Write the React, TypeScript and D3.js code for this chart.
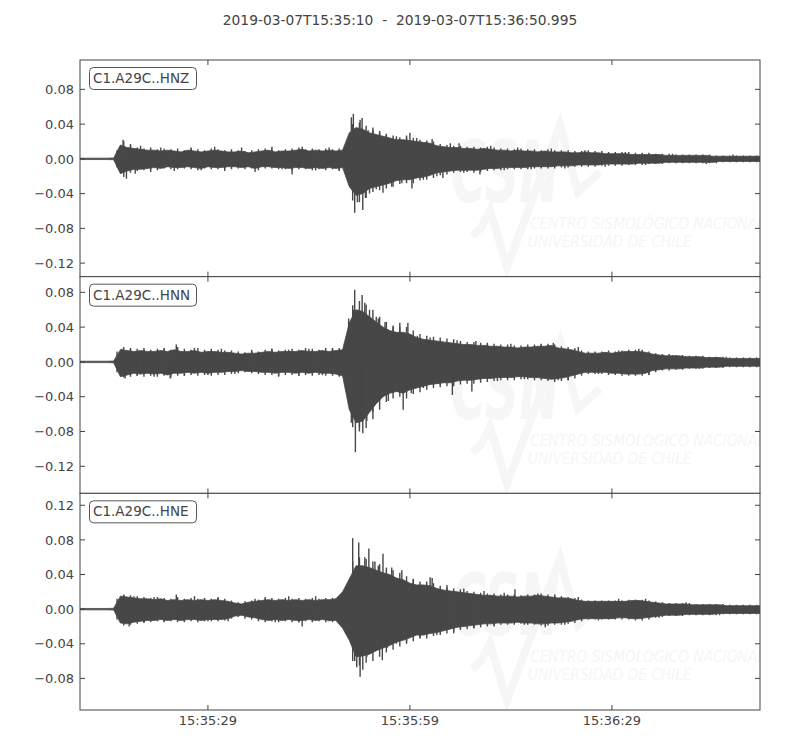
import React from "react";
import * as d3 from "d3";

// ---------- data ----------
const TITLE = "2019-03-07T15:35:10  -  2019-03-07T15:36:50.995";
const DURATION = 100.995; // seconds from 15:35:10
const X_TICKS = [19, 49, 79];
const X_TICK_LABELS = ["15:35:29", "15:35:59", "15:36:29"];
const CHANNELS = ["C1.A29C..HNZ", "C1.A29C..HNN", "C1.A29C..HNE"];
const Y_DOMAINS: [number, number][] = [
  [-0.1356, 0.1138],
  [-0.1511, 0.098],
  [-0.1165, 0.1338],
];
const Y_TICKS = [
  [0.08, 0.04, 0.0, -0.04, -0.08, -0.12],
  [0.08, 0.04, 0.0, -0.04, -0.08, -0.12],
  [0.12, 0.08, 0.04, 0.0, -0.04, -0.08],
];

// solid envelope read once per second, t = 0 .. 101 s after 15:35:10
const ENV_STEP = 1;
// jagged edge ("teeth") read once per second, at t = 5.5 .. 100.5 s
const TEETH_START = 5.5;

const HNZ_UPPER = [
  0.0008, 0.0008, 0.0008, 0.0008, 0.0008, 0.001,
  0.016, 0.013, 0.012, 0.011, 0.01,
  0.01, 0.009, 0.01, 0.009, 0.008, 0.01, 0.009, 0.008, 0.009, 0.01,
  0.009, 0.008, 0.008, 0.009, 0.007, 0.008, 0.009, 0.01, 0.008, 0.009,
  0.009, 0.01, 0.011, 0.009, 0.01, 0.009, 0.01, 0.009, 0.01,
  0.03, 0.036, 0.034, 0.03, 0.028, 0.026, 0.024, 0.022, 0.022, 0.021, 0.02, 0.019, 0.018, 0.015, 0.014, 0.013,
  0.013, 0.012, 0.012, 0.011, 0.012, 0.011, 0.01, 0.01, 0.009, 0.01, 0.009, 0.009, 0.008, 0.009, 0.008,
  0.008, 0.008, 0.007, 0.007, 0.008, 0.007, 0.007, 0.006, 0.006, 0.006, 0.006, 0.005, 0.005, 0.005, 0.005,
  0.005, 0.004, 0.004, 0.004, 0.004, 0.004, 0.004, 0.004, 0.003, 0.003, 0.003, 0.003, 0.003, 0.003, 0.003, 0.003,
];
const HNZ_LOWER = [
  -0.0008, -0.0008, -0.0008, -0.0008, -0.0008, -0.001,
  -0.017, -0.014, -0.012, -0.012, -0.011,
  -0.01, -0.011, -0.009, -0.01, -0.01, -0.009, -0.01, -0.011, -0.009, -0.01,
  -0.01, -0.009, -0.009, -0.01, -0.009, -0.011, -0.009, -0.009, -0.01, -0.01,
  -0.011, -0.01, -0.01, -0.011, -0.01, -0.011, -0.01, -0.011, -0.01,
  -0.032, -0.042, -0.04, -0.034, -0.032, -0.03, -0.028, -0.025, -0.024, -0.024, -0.022, -0.021, -0.019, -0.016, -0.015, -0.014,
  -0.013, -0.013, -0.013, -0.013, -0.012, -0.011, -0.011, -0.01, -0.01, -0.01, -0.01, -0.009, -0.009, -0.009, -0.009,
  -0.008, -0.008, -0.008, -0.007, -0.007, -0.007, -0.007, -0.006, -0.006, -0.006, -0.006, -0.006, -0.005, -0.005, -0.005,
  -0.005, -0.004, -0.004, -0.004, -0.004, -0.004, -0.004, -0.004, -0.004, -0.003, -0.003, -0.003, -0.003, -0.003, -0.003, -0.003,
];
const HNZ_TEETH_HI = [
  0.01, 0.02, 0.015, 0.013, 0.012, 0.013, 0.011, 0.012, 0.011, 0.012, 0.01, 0.012, 0.011, 0.01, 0.012, 0.011, 0.01, 0.011, 0.01, 0.009, 0.01, 0.011, 0.012, 0.011, 0.01, 0.011, 0.012, 0.013, 0.011, 0.012, 0.011, 0.012, 0.011, 0.012, 0.012,
  0.04, 0.042, 0.038, 0.033, 0.03, 0.029, 0.027, 0.025, 0.025, 0.024, 0.022, 0.021, 0.02, 0.017, 0.016, 0.015,
  0.015, 0.014, 0.014, 0.013, 0.014, 0.013, 0.012, 0.012, 0.011, 0.012, 0.011, 0.011, 0.01, 0.011, 0.01,
  0.01, 0.01, 0.009, 0.009, 0.01, 0.009, 0.009, 0.008, 0.008, 0.008, 0.008, 0.007, 0.007, 0.007, 0.006,
  0.006, 0.006, 0.005, 0.005, 0.005, 0.005, 0.005, 0.005, 0.004, 0.004, 0.004, 0.004, 0.004, 0.004, 0.004,
];
const HNZ_TEETH_LO = [
  -0.01, -0.021, -0.016, -0.014, -0.013, -0.012, -0.013, -0.011, -0.012, -0.012, -0.011, -0.012, -0.013, -0.011, -0.012, -0.012, -0.011, -0.012, -0.011, -0.012, -0.011, -0.013, -0.011, -0.011, -0.012, -0.012, -0.013, -0.012, -0.012, -0.013, -0.012, -0.013, -0.012, -0.013, -0.012,
  -0.048, -0.05, -0.045, -0.038, -0.036, -0.034, -0.032, -0.029, -0.028, -0.028, -0.025, -0.024, -0.022, -0.019, -0.018, -0.016,
  -0.015, -0.015, -0.016, -0.015, -0.014, -0.013, -0.013, -0.012, -0.012, -0.012, -0.012, -0.011, -0.011, -0.011, -0.011,
  -0.01, -0.01, -0.009, -0.009, -0.009, -0.009, -0.008, -0.008, -0.008, -0.008, -0.007, -0.007, -0.007, -0.006, -0.006,
  -0.006, -0.005, -0.005, -0.005, -0.005, -0.005, -0.005, -0.005, -0.005, -0.004, -0.004, -0.004, -0.004, -0.004, -0.004,
];
const HNZ_SPIKES: [number, number][] = [
  [6.4, 0.022], [6.9, -0.023], [7.5, 0.017], [8.2, -0.017], [9, 0.015], [10.5, -0.015], [12, 0.013], [14, -0.014], [16.5, 0.013], [18, -0.013], [20, 0.014], [21.5, -0.014], [24, 0.013], [26, -0.015], [28.5, 0.014], [30, -0.012], [31.5, -0.018], [33, 0.014], [35, -0.013], [37, 0.013], [38.5, -0.014],
  [40.3, 0.048], [40.6, 0.052], [40.8, -0.062], [41.2, -0.05], [41.6, 0.045], [41.9, 0.047], [42.0, -0.059], [42.4, -0.045], [42.8, 0.033], [43.0, -0.04], [43.5, 0.036], [44, -0.035], [44.5, 0.032], [45.0, -0.039], [45.5, 0.028], [46.3, -0.032], [47, 0.026], [47.8, -0.028], [48.5, 0.027], [49.0, 0.03], [49.3, -0.034], [50, 0.024], [51, -0.024], [52.3, 0.023], [53, -0.02], [53.9, -0.022], [55, 0.018], [56.3, 0.018], [57, -0.016], [59.4, -0.018], [61, 0.015], [63, -0.013], [65, 0.013], [67, -0.012], [70, 0.012], [72, -0.011], [75, 0.01], [78, -0.009], [81, 0.008], [84, -0.007], [88, 0.006], [93, -0.006], [97, 0.005],
];

const HNN_UPPER = [
  0.0008, 0.0008, 0.0008, 0.0008, 0.0008, 0.001,
  0.014, 0.013, 0.012, 0.013, 0.012,
  0.012, 0.013, 0.012, 0.014, 0.012, 0.012, 0.013, 0.011, 0.012, 0.012,
  0.011, 0.011, 0.01, 0.009, 0.01, 0.01, 0.011, 0.012, 0.011, 0.012,
  0.012, 0.012, 0.013, 0.012, 0.012, 0.013, 0.012, 0.013, 0.014,
  0.045, 0.06, 0.058, 0.052, 0.046, 0.04, 0.036, 0.034, 0.034, 0.032, 0.028, 0.026, 0.025, 0.024, 0.023, 0.022,
  0.021, 0.02, 0.02, 0.019, 0.019, 0.018, 0.018, 0.017, 0.017, 0.016, 0.017, 0.017, 0.018, 0.018, 0.019,
  0.016, 0.015, 0.014, 0.012, 0.01, 0.01, 0.01, 0.011, 0.01, 0.011, 0.012, 0.012, 0.012, 0.011, 0.009,
  0.008, 0.007, 0.007, 0.007, 0.006, 0.006, 0.006, 0.005, 0.005, 0.005, 0.004, 0.004, 0.004, 0.004, 0.004, 0.004,
];
const HNN_LOWER = [
  -0.0008, -0.0008, -0.0008, -0.0008, -0.0008, -0.001,
  -0.017, -0.015, -0.013, -0.014, -0.013,
  -0.014, -0.013, -0.015, -0.013, -0.013, -0.012, -0.013, -0.012, -0.013, -0.012,
  -0.012, -0.011, -0.011, -0.01, -0.011, -0.011, -0.012, -0.012, -0.013, -0.012,
  -0.012, -0.013, -0.012, -0.013, -0.012, -0.013, -0.013, -0.014, -0.016,
  -0.055, -0.07, -0.068, -0.058, -0.048, -0.04, -0.036, -0.034, -0.036, -0.032, -0.03, -0.028, -0.026, -0.025, -0.024, -0.024,
  -0.022, -0.021, -0.021, -0.02, -0.019, -0.019, -0.018, -0.018, -0.018, -0.017, -0.017, -0.018, -0.018, -0.019, -0.02,
  -0.019, -0.018, -0.016, -0.014, -0.012, -0.012, -0.012, -0.012, -0.013, -0.013, -0.014, -0.014, -0.014, -0.013, -0.01,
  -0.009, -0.008, -0.008, -0.008, -0.007, -0.007, -0.007, -0.006, -0.006, -0.006, -0.005, -0.005, -0.005, -0.005, -0.005, -0.005,
];
const HNN_TEETH_HI = [
  0.012, 0.017, 0.015, 0.015, 0.016, 0.014, 0.015, 0.016, 0.014, 0.017, 0.015, 0.014, 0.016, 0.014, 0.015, 0.014, 0.013, 0.013, 0.012, 0.011, 0.012, 0.012, 0.014, 0.015, 0.013, 0.014, 0.015, 0.014, 0.016, 0.015, 0.014, 0.016, 0.015, 0.016, 0.017,
  0.065, 0.07, 0.066, 0.06, 0.052, 0.046, 0.042, 0.04, 0.04, 0.036, 0.032, 0.03, 0.029, 0.028, 0.027, 0.026,
  0.024, 0.023, 0.023, 0.022, 0.021, 0.021, 0.02, 0.02, 0.019, 0.019, 0.02, 0.02, 0.021, 0.021, 0.02,
  0.018, 0.017, 0.016, 0.013, 0.012, 0.012, 0.012, 0.013, 0.012, 0.013, 0.014, 0.014, 0.014, 0.012, 0.01,
  0.009, 0.009, 0.008, 0.008, 0.007, 0.007, 0.007, 0.006, 0.006, 0.006, 0.005, 0.005, 0.005, 0.005, 0.005,
];
const HNN_TEETH_LO = [
  -0.012, -0.018, -0.017, -0.016, -0.017, -0.016, -0.017, -0.016, -0.018, -0.016, -0.016, -0.015, -0.016, -0.015, -0.016, -0.015, -0.015, -0.014, -0.013, -0.012, -0.013, -0.014, -0.015, -0.015, -0.016, -0.015, -0.015, -0.016, -0.015, -0.016, -0.015, -0.016, -0.016, -0.017, -0.02,
  -0.075, -0.08, -0.076, -0.066, -0.055, -0.046, -0.042, -0.04, -0.042, -0.037, -0.035, -0.032, -0.03, -0.029, -0.028, -0.028,
  -0.026, -0.025, -0.025, -0.024, -0.023, -0.022, -0.021, -0.021, -0.021, -0.02, -0.02, -0.021, -0.021, -0.022, -0.023,
  -0.022, -0.021, -0.019, -0.016, -0.014, -0.014, -0.014, -0.015, -0.015, -0.016, -0.016, -0.016, -0.016, -0.015, -0.012,
  -0.01, -0.01, -0.009, -0.009, -0.008, -0.008, -0.008, -0.007, -0.007, -0.007, -0.006, -0.006, -0.006, -0.006, -0.006,
];
const HNN_SPIKES: [number, number][] = [
  [6.2, 0.015], [6.7, -0.019], [7.5, 0.016], [8.5, -0.016], [9.5, 0.014], [11, -0.017], [12.5, 0.015], [13.4, -0.019], [14.3, 0.02], [15.5, -0.016], [17, 0.016], [19, -0.015], [21, 0.015], [23, -0.014], [25.5, 0.014], [28.5, 0.015], [29.5, -0.017], [31, 0.014], [32.5, -0.016], [34, 0.015], [36, -0.015], [37.5, 0.016], [38.5, -0.016],
  [39.9, 0.05], [40.3, -0.07], [40.6, 0.06], [40.8, 0.083], [40.9, -0.104], [41.2, 0.055], [41.5, -0.075], [41.9, 0.077], [42.0, -0.082], [42.3, 0.068], [42.6, -0.068], [43.0, 0.06], [43.5, -0.058], [44.0, 0.052], [44.3, 0.05], [44.6, -0.04], [45.3, 0.046], [45.8, -0.045], [46.5, 0.04], [47.5, 0.045], [48.0, -0.055], [48.7, 0.045], [49.2, -0.036], [50.1, 0.03], [51, -0.03], [52, 0.028], [53.5, -0.026], [55.3, -0.038], [56, 0.025], [58.2, -0.034], [58.8, 0.024], [60.5, 0.022], [62, -0.022], [64, 0.021], [66, -0.02], [68.5, 0.02], [70.3, 0.022], [71, -0.021], [72.5, -0.021], [74, 0.017], [77, -0.014], [80, 0.013], [83, 0.015], [84.5, -0.015], [88, 0.008], [92, -0.008], [96, 0.006],
];

const HNE_UPPER = [
  0.0008, 0.0008, 0.0008, 0.0008, 0.0008, 0.001,
  0.015, 0.014, 0.013, 0.012, 0.012,
  0.011, 0.012, 0.01, 0.011, 0.01, 0.011, 0.01, 0.011, 0.01, 0.011,
  0.01, 0.009, 0.007, 0.006, 0.008, 0.009, 0.01, 0.011, 0.01, 0.011,
  0.01, 0.011, 0.01, 0.011, 0.01, 0.011, 0.011, 0.012, 0.02,
  0.035, 0.05, 0.05, 0.048, 0.045, 0.042, 0.04, 0.036, 0.034, 0.03, 0.028, 0.028, 0.027, 0.024, 0.022, 0.021,
  0.02, 0.019, 0.018, 0.017, 0.016, 0.016, 0.015, 0.015, 0.015, 0.014, 0.015, 0.015, 0.016, 0.015, 0.014,
  0.013, 0.013, 0.012, 0.01, 0.009, 0.009, 0.009, 0.009, 0.009, 0.009, 0.009, 0.01, 0.01, 0.009, 0.008,
  0.007, 0.006, 0.006, 0.006, 0.006, 0.005, 0.005, 0.005, 0.005, 0.005, 0.004, 0.004, 0.004, 0.004, 0.004, 0.004,
];
const HNE_LOWER = [
  -0.0008, -0.0008, -0.0008, -0.0008, -0.0008, -0.001,
  -0.016, -0.017, -0.015, -0.014, -0.013,
  -0.013, -0.012, -0.013, -0.012, -0.013, -0.012, -0.012, -0.013, -0.012, -0.012,
  -0.012, -0.011, -0.008, -0.007, -0.009, -0.01, -0.012, -0.013, -0.012, -0.013,
  -0.012, -0.013, -0.013, -0.012, -0.013, -0.012, -0.013, -0.013, -0.022,
  -0.036, -0.055, -0.054, -0.052, -0.048, -0.045, -0.042, -0.038, -0.036, -0.033, -0.03, -0.03, -0.028, -0.027, -0.025, -0.023,
  -0.021, -0.02, -0.019, -0.018, -0.017, -0.017, -0.016, -0.016, -0.016, -0.015, -0.016, -0.016, -0.017, -0.017, -0.016,
  -0.016, -0.015, -0.014, -0.012, -0.011, -0.011, -0.011, -0.011, -0.011, -0.01, -0.01, -0.011, -0.011, -0.01, -0.009,
  -0.008, -0.007, -0.007, -0.007, -0.006, -0.006, -0.006, -0.006, -0.006, -0.005, -0.005, -0.005, -0.005, -0.005, -0.005, -0.005,
];
const HNE_TEETH_HI = [
  0.012, 0.017, 0.016, 0.015, 0.014, 0.013, 0.014, 0.013, 0.012, 0.014, 0.012, 0.013, 0.012, 0.013, 0.012, 0.013, 0.012, 0.01, 0.008, 0.009, 0.01, 0.011, 0.012, 0.013, 0.012, 0.013, 0.012, 0.013, 0.012, 0.013, 0.012, 0.013, 0.013, 0.015, 0.026,
  0.055, 0.06, 0.058, 0.055, 0.052, 0.048, 0.045, 0.042, 0.038, 0.034, 0.032, 0.032, 0.03, 0.027, 0.025, 0.024,
  0.023, 0.021, 0.02, 0.019, 0.018, 0.018, 0.017, 0.017, 0.017, 0.016, 0.017, 0.017, 0.018, 0.017, 0.016,
  0.015, 0.014, 0.013, 0.011, 0.01, 0.01, 0.01, 0.01, 0.01, 0.01, 0.011, 0.011, 0.011, 0.01, 0.009,
  0.008, 0.007, 0.007, 0.007, 0.007, 0.006, 0.006, 0.006, 0.006, 0.006, 0.005, 0.005, 0.005, 0.005, 0.005,
];
const HNE_TEETH_LO = [
  -0.012, -0.019, -0.018, -0.017, -0.016, -0.015, -0.014, -0.015, -0.014, -0.015, -0.014, -0.014, -0.015, -0.014, -0.014, -0.014, -0.013, -0.011, -0.009, -0.011, -0.012, -0.014, -0.015, -0.014, -0.015, -0.014, -0.015, -0.015, -0.014, -0.015, -0.014, -0.015, -0.015, -0.016, -0.028,
  -0.06, -0.065, -0.062, -0.06, -0.055, -0.05, -0.047, -0.043, -0.04, -0.037, -0.034, -0.034, -0.031, -0.03, -0.028, -0.026,
  -0.024, -0.023, -0.022, -0.021, -0.02, -0.019, -0.018, -0.018, -0.018, -0.017, -0.018, -0.018, -0.019, -0.019, -0.018,
  -0.018, -0.017, -0.016, -0.014, -0.012, -0.012, -0.012, -0.012, -0.012, -0.012, -0.012, -0.013, -0.013, -0.012, -0.01,
  -0.009, -0.008, -0.008, -0.008, -0.007, -0.007, -0.007, -0.007, -0.007, -0.006, -0.006, -0.006, -0.006, -0.006, -0.006,
];
const HNE_SPIKES: [number, number][] = [
  [6.5, 0.016], [7.3, -0.02], [8, 0.015], [9.5, -0.015], [11, 0.014], [12.5, -0.014], [14.3, 0.017], [15.5, -0.015], [17, 0.015], [19, -0.014], [20.5, 0.014], [22, -0.014], [26, 0.012], [27.5, 0.014], [29, -0.015], [31, 0.015], [32.5, -0.015], [33.0, -0.02], [35, 0.015], [37, -0.014], [38.5, 0.015],
  [40.0, 0.033], [40.3, -0.04], [40.5, 0.082], [40.8, -0.06], [41.1, -0.067], [41.4, 0.077], [41.6, -0.078], [42.0, -0.07], [42.3, 0.06], [42.6, -0.055], [42.9, 0.07], [43.4, -0.05], [43.8, 0.055], [44.3, 0.05], [44.9, -0.059], [45.0, 0.064], [45.6, -0.045], [46.3, 0.048], [47, -0.04], [47.8, 0.045], [48.5, -0.038], [49.5, 0.035], [50.5, -0.033], [52.0, 0.037], [52.3, 0.036], [53, -0.03], [54.5, 0.028], [55.5, -0.028], [57, 0.024], [58.5, -0.022], [60, 0.021], [61.5, -0.02], [63, 0.019], [64.6, 0.023], [66, -0.018], [68, 0.018], [69.1, -0.021], [70.5, 0.017], [72, -0.018], [74, 0.014], [77, -0.013], [80, 0.012], [84, 0.012], [86, -0.01], [90, 0.008], [95, -0.007],
];

const TRACES = [
  { upper: HNZ_UPPER, lower: HNZ_LOWER, hi: HNZ_TEETH_HI, lo: HNZ_TEETH_LO, spikes: HNZ_SPIKES },
  { upper: HNN_UPPER, lower: HNN_LOWER, hi: HNN_TEETH_HI, lo: HNN_TEETH_LO, spikes: HNN_SPIKES },
  { upper: HNE_UPPER, lower: HNE_LOWER, hi: HNE_TEETH_HI, lo: HNE_TEETH_LO, spikes: HNE_SPIKES },
];

// ---------- layout ----------
const W = 800;
const H = 750;
const LEFT = 80;
const RIGHT = 760;
const TOP = 60;
const BOTTOM = 710;
const PANEL_H = (BOTTOM - TOP) / 3;
const INK = "#444444";
const WAVE = "#474747";
const FONT = "DejaVu Sans, sans-serif";
const TICK = 5;

function Watermark({ top }: { top: number }) {
  const c = "#f6f6f6";
  return (
    <g pointerEvents="none">
      <path
        d={`M 472 ${top + 176} L 481 ${top + 168} L 490 ${top + 150} L 507 ${top + 207} L 560 ${top + 65} L 578 ${top + 132} L 600 ${top + 112}`}
        fill="none"
        stroke={c}
        strokeWidth={8}
        strokeLinejoin="miter"
      />
      <text
        transform={`translate(451 ${top + 142}) scale(0.56 1)`}
        fontFamily={FONT}
        fontWeight="bold"
        fontStyle="italic"
        fontSize={86}
        fill={c}
      >
        CSN
      </text>
      <text
        transform={`translate(530 ${top + 169}) scale(0.86 1)`}
        fontFamily={FONT}
        fontStyle="italic"
        fontSize={16}
        fill={c}
      >
        CENTRO SISMOLÓGICO NACIONAL
      </text>
      <text
        transform={`translate(528 ${top + 187}) scale(0.86 1)`}
        fontFamily={FONT}
        fontStyle="italic"
        fontSize={16}
        fill={c}
      >
        UNIVERSIDAD DE CHILE
      </text>
    </g>
  );
}

function Panel({ index }: { index: number }) {
  const top = TOP + index * PANEL_H;
  const bottom = top + PANEL_H;
  const x = d3.scaleLinear().domain([0, DURATION]).range([LEFT, RIGHT]);
  const y = d3.scaleLinear().domain(Y_DOMAINS[index]).range([bottom, top]);
  const tr = TRACES[index];
  const pts = tr.upper.map((u, i) => ({ t: i * ENV_STEP, u, l: tr.lower[i] }));
  const area = d3
    .area<{ t: number; u: number; l: number }>()
    .x((d) => x(d.t))
    .y0((d) => y(d.l))
    .y1((d) => y(d.u))
    .curve(d3.curveLinear);
  const clipId = `clip${index}`;
  const fmt = d3.format(".2f");
  const label = CHANNELS[index];
  return (
    <g>
      <defs>
        <clipPath id={clipId}>
          <rect x={LEFT} y={top} width={RIGHT - LEFT} height={PANEL_H} />
        </clipPath>
      </defs>
      <rect x={LEFT} y={top} width={RIGHT - LEFT} height={PANEL_H} fill="#fff" />
      <g clipPath={`url(#${clipId})`}>
        <Watermark top={top} />
        <path d={area(pts) || ""} fill={WAVE} stroke={WAVE} strokeWidth={0.8} />
        {tr.hi.map((h, i) => {
          const tx = x(TEETH_START + i * ENV_STEP);
          return <line key={`t${i}`} x1={tx} x2={tx} y1={y(tr.lo[i])} y2={y(h)} stroke={WAVE} strokeWidth={1.4} />;
        })}
        {tr.spikes.map(([t, v], i) => (
          <line key={i} x1={x(t)} x2={x(t)} y1={y(0)} y2={y(v)} stroke={WAVE} strokeWidth={1.4} />
        ))}
      </g>
      {Y_TICKS[index].map((v) => (
        <g key={v}>
          <line x1={LEFT} x2={LEFT + TICK} y1={y(v)} y2={y(v)} stroke={INK} />
          <line x1={RIGHT} x2={RIGHT - TICK} y1={y(v)} y2={y(v)} stroke={INK} />
          <text x={LEFT - 6} y={y(v)} dy="0.36em" textAnchor="end" fontFamily={FONT} fontSize={13} fill={INK}>
            {fmt(v).replace("-", "\u2212")}
          </text>
        </g>
      ))}
      {X_TICKS.map((t) => (
        <g key={t}>
          <line x1={x(t)} x2={x(t)} y1={top} y2={top + TICK} stroke={INK} />
          <line x1={x(t)} x2={x(t)} y1={bottom} y2={bottom - TICK} stroke={INK} />
        </g>
      ))}
      <rect x={LEFT} y={top} width={RIGHT - LEFT} height={PANEL_H} fill="none" stroke={INK} strokeWidth={1} />
      <rect x={LEFT + 9.5} y={top + 7.5} width={107} height={22} rx={4} ry={4} fill="#fff" stroke="#555" strokeWidth={1} />
      <text x={LEFT + 13} y={top + 23} fontFamily={FONT} fontSize={13.5} fill={INK}>
        {label}
      </text>
    </g>
  );
}

export default function App() {
  const x = d3.scaleLinear().domain([0, DURATION]).range([LEFT, RIGHT]);
  return (
    <svg width={W} height={H} viewBox={`0 0 ${W} ${H}`} style={{ position: "absolute", left: 0, top: 0, background: "#fff" }}>
      <rect x={0} y={0} width={W} height={H} fill="#fff" />
      <text x={400} y={25} textAnchor="middle" fontFamily={FONT} fontSize={13.8} fill={INK} xmlSpace="preserve">
        {TITLE}
      </text>
      {[0, 1, 2].map((i) => (
        <Panel key={i} index={i} />
      ))}
      {X_TICKS.map((t, i) => (
        <text key={t} x={x(t)} y={725} textAnchor="middle" fontFamily={FONT} fontSize={13} fill={INK}>
          {X_TICK_LABELS[i]}
        </text>
      ))}
    </svg>
  );
}
